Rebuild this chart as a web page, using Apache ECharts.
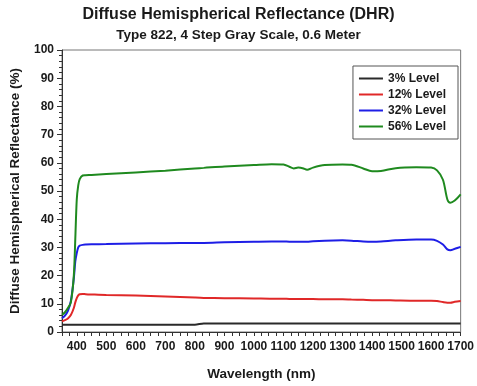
<!DOCTYPE html>
<html>
<head>
<meta charset="utf-8">
<script src="https://cdn.jsdelivr.net/npm/echarts@6/dist/echarts.min.js"></script>
<style>
  html, body { margin: 0; padding: 0; background: #fff; }
  #main { width: 477px; height: 386px; }
</style>
</head>
<body>
<div id="main"></div>
<script>
// 波长 (nm)
const wavelengths = [350, 360, 370, 380, 390, 395, 400, 405, 410, 420, 430, 450, 500, 600, 700, 800, 830, 900, 1000, 1060,
  1100, 1120, 1135, 1150, 1165, 1180, 1200, 1240, 1300, 1330, 1370, 1400, 1430, 1480, 1550, 1600, 1620, 1640, 1655, 1665, 1680, 1700]

const level3 = [2.6, 2.6, 2.6, 2.6, 2.6, 2.6, 2.6, 2.6, 2.6, 2.6, 2.6, 2.6, 2.6, 2.6, 2.6, 2.6, 3.0, 3.0, 3.0, 3.0,
  3.0, 3.0, 3.0, 3.0, 3.0, 3.0, 3.0, 3.0, 3.0, 3.0, 3.0, 3.0, 3.0, 3.0, 3.0, 3.0, 3.0, 3.0, 3.0, 3.0, 3.0, 3.0]
const level12 = [3.8, 4.2, 4.8, 6, 8.5, 10.5, 12, 13, 13.4, 13.5, 13.4, 13.3, 13.1, 12.9, 12.6, 12.2, 12.1, 12, 11.9, 11.8,
  11.8, 11.7, 11.7, 11.7, 11.7, 11.7, 11.7, 11.6, 11.6, 11.5, 11.4, 11.3, 11.3, 11.2, 11.1, 11.1, 11, 10.6, 10.4, 10.4, 10.7, 11.0]
const level32 = [4.9, 5.8, 7.5, 11, 19, 25, 28, 30, 30.6, 30.9, 31, 31.1, 31.2, 31.4, 31.5, 31.6, 31.6, 31.8, 32, 32.1,
  32.1, 32, 32, 32, 32, 32, 32.2, 32.4, 32.5, 32.4, 32.1, 32, 32.1, 32.5, 32.8, 32.8, 32.3, 31, 29.3, 29, 29.5, 30.2]
const level56 = [6.1, 7, 8.5, 10.5, 20, 33, 47, 52, 54.2, 55.5, 55.6, 55.7, 56, 56.6, 57.2, 58, 58.2, 58.7, 59.2, 59.5,
  59.4, 58.6, 58.0, 58.3, 58.1, 57.5, 58.3, 59.2, 59.4, 59.3, 58, 57, 57.1, 58.1, 58.4, 58.3, 57.3, 54, 47, 45.8, 46.6, 48.8]

const seriesNames = ["3% Level", "12% Level", "32% Level", "56% Level"]
const seriesColors = ["#2a2a2a", "#e02828", "#1e1ee6", "#1f8a1f"]
const seriesValues = [level3, level12, level32, level56]

const font = "Liberation Sans, Arial, sans-serif"

var myChart = echarts.init(document.getElementById('main'))

var option = {
  backgroundColor: '#fff',
  animation: false,
  title: {
    text: 'Diffuse Hemispherical Reflectance (DHR)',
    subtext: 'Type 822, 4 Step Gray Scale, 0.6 Meter',
    left: 'center',
    top: 2,
    itemGap: 5,
    textStyle: { fontFamily: font, fontSize: 16, fontWeight: 'bold', color: '#1a1a1a' },
    subtextStyle: { fontFamily: font, fontSize: 13.5, fontWeight: 'bold', color: '#1a1a1a' }
  },
  legend: {
    orient: 'vertical',
    right: 19,
    top: 66,
    padding: [6, 12, 6, 6],
    itemGap: 3,
    itemWidth: 24,
    itemHeight: 2,
    icon: 'rect',
    borderColor: '#555',
    borderWidth: 1,
    backgroundColor: '#fff',
    textStyle: { fontFamily: font, fontSize: 12, fontWeight: 'bold', color: '#1a1a1a', lineHeight: 13 },
    data: seriesNames
  },
  grid: {
    left: 61, right: 12, top: 50, bottom: 52,
    show: true, borderColor: '#777', borderWidth: 1
  },
  xAxis: {
    type: 'value',
    min: 350, max: 1700, interval: 50,
    name: 'Wavelength (nm)',
    nameLocation: 'middle',
    nameGap: 35,
    nameTextStyle: { fontFamily: font, fontSize: 13.5, fontWeight: 'bold', color: '#1a1a1a' },
    axisLine: { lineStyle: { color: '#333' } },
    axisTick: { length: 4, lineStyle: { color: '#333' } },
    minorTick: { show: true, splitNumber: 2, length: 4, lineStyle: { color: '#333' } },
    splitLine: { show: false },
    axisLabel: {
      fontFamily: font, fontSize: 12, fontWeight: 'bold', color: '#1a1a1a', margin: 9,
      formatter: v => (v % 100 === 0 ? String(v) : '')
    }
  },
  yAxis: {
    type: 'value',
    min: 0, max: 100, interval: 10,
    name: 'Diffuse Hemispherical Reflectance (%)',
    nameLocation: 'middle',
    nameGap: 40,
    nameTextStyle: { fontFamily: font, fontSize: 13.5, fontWeight: 'bold', color: '#1a1a1a' },
    axisLine: { show: true, lineStyle: { color: '#333' } },
    axisTick: { show: true, length: 5, lineStyle: { color: '#333' } },
    minorTick: { show: true, splitNumber: 5, length: 3, lineStyle: { color: '#333' } },
    splitLine: { show: false },
    axisLabel: { fontFamily: font, fontSize: 12, fontWeight: 'bold', color: '#1a1a1a', margin: 8 }
  },
  series: seriesNames.map((name, i) => ({
    name: name,
    type: 'line',
    showSymbol: false,
    smooth: 0.3,
    color: seriesColors[i],
    lineStyle: { width: 2, color: seriesColors[i] },
    data: wavelengths.map((w, j) => [w, seriesValues[i][j]])
  }))
}

myChart.setOption(option)
</script>
</body>
</html>
